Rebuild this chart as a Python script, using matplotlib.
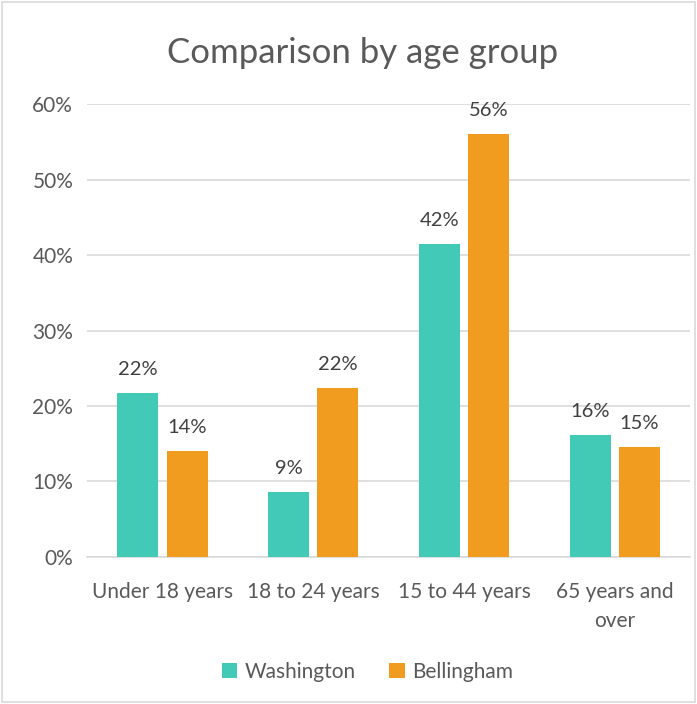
import matplotlib.pyplot as plt
import numpy as np

plt.rcParams['font.family'] = ['Lato', 'DejaVu Sans']

# 数据
categories = ['Under 18 years', '18 to 24 years', '15 to 44 years', '65 years and\nover']
washington = [21.7, 8.6, 41.5, 16.2]
bellingham = [14.0, 22.4, 56.0, 14.6]
series_names = ['Washington', 'Bellingham']
colors = ['#42CAB7', '#F19C1E']

fig = plt.figure(figsize=(6.97, 7.04), dpi=100)
ax = fig.add_axes([0.125, 0.209, 0.865, 0.643])

x = np.arange(len(categories))
w = 0.272
gap = 0.054
bars_w = ax.bar(x - (w + gap) / 2, washington, w, color=colors[0], label=series_names[0], zorder=3)
bars_b = ax.bar(x + (w + gap) / 2, bellingham, w, color=colors[1], label=series_names[1], zorder=3)

# 柱子上方标签
for bars, vals in [(bars_w, washington), (bars_b, bellingham)]:
    for bar, v in zip(bars, vals):
        ax.text(bar.get_x() + bar.get_width() / 2, v + 2.0, f'{v:.0f}%',
                ha='center', va='bottom', fontsize=14.5, color='#404040')

ax.set_xlim(-0.5, len(categories) - 0.5)
ax.set_ylim(0, 60)
ax.set_yticks(np.arange(0, 61, 10))
ax.set_yticklabels([f'{t}%' for t in range(0, 61, 10)])
ax.set_xticks(x)
ax.set_xticklabels(categories, linespacing=1.55)
ax.tick_params(axis='both', length=0, labelsize=15, colors='#595959')
ax.tick_params(axis='x', pad=18)
ax.tick_params(axis='y', pad=10)
ax.grid(True, axis='y', color='#D9D9D9', linewidth=1.2, zorder=0)
for s in ['top', 'right', 'left']:
    ax.spines[s].set_visible(False)
ax.spines['bottom'].set_color('#D9D9D9')
ax.spines['bottom'].set_linewidth(1.2)

fig.text(0.52, 0.925, 'Comparison by age group', ha='center', va='center',
         fontsize=25, color='#595959')

fig.legend(loc='center', bbox_to_anchor=(0.527, 0.046), ncol=2, frameon=False,
           fontsize=15, handlelength=0.75, handleheight=0.75, columnspacing=1.6,
           handletextpad=0.35, labelcolor='#595959')

# 外边框
fig.add_artist(plt.Rectangle((0.003, 0.003), 0.994, 0.994, transform=fig.transFigure,
                             fill=False, edgecolor='#D9D9D9', linewidth=1.2))

fig.savefig('out.png', dpi=100)
